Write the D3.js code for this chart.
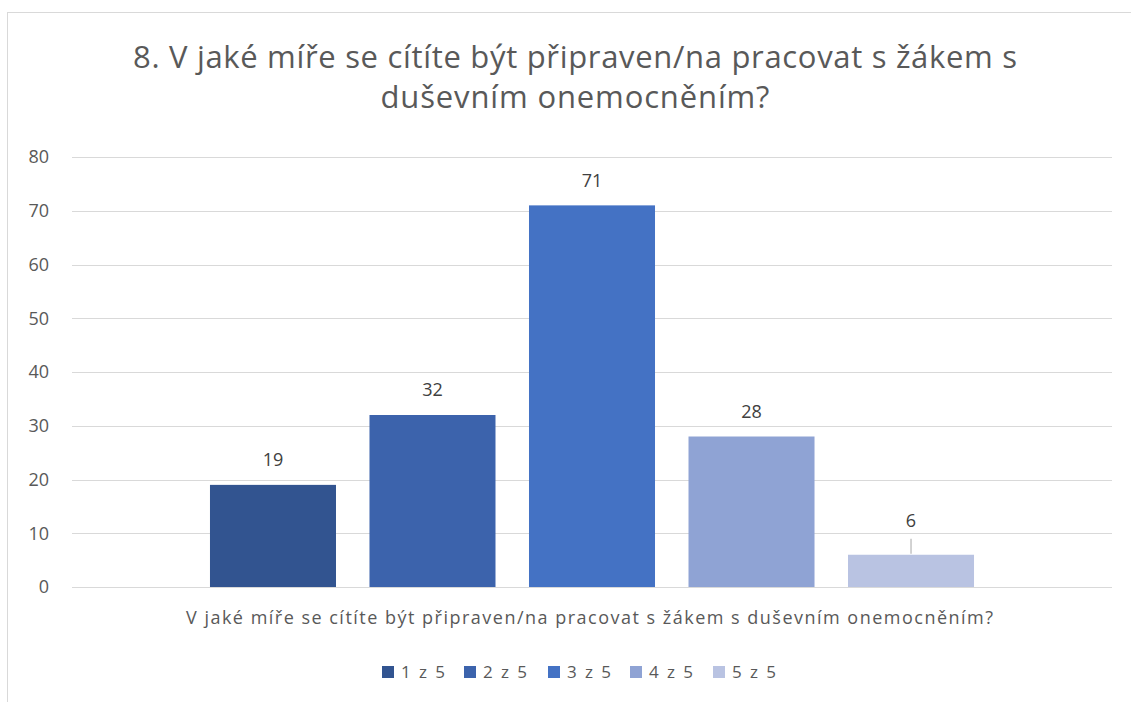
<!DOCTYPE html>
<html><head><meta charset="utf-8">
<script src="https://cdn.jsdelivr.net/npm/d3@7"></script>
<style>body{margin:0;background:#fff}svg{display:block}</style>
</head><body>
<svg id="c" width="1131" height="702"></svg>
<script>
const seriesNames = ["1 z 5","2 z 5","3 z 5","4 z 5","5 z 5"];
const values = [19, 32, 71, 28, 6];
const colors = ["#325490","#3c63ac","#4472c4","#8fa3d4","#b9c3e2"];
const yTicks = [0,10,20,30,40,50,60,70,80];
const titleLines = ["8. V jaké míře se cítíte být připraven/na pracovat s žákem s","duševním onemocněním?"];
const categoryLabel = "V jaké míře se cítíte být připraven/na pracovat s žákem s duševním onemocněním?";

const svg = d3.select("#c");
const font = "'Open Sans', 'Liberation Sans', sans-serif";
const txt = "#595959";

// chart border
svg.append("rect").attr("x",7.5).attr("y",12.5).attr("width",1140).attr("height",720)
  .attr("fill","none").attr("stroke","#d9d9d9").attr("stroke-width",1);

const L=72, R=1112, T=157, B=587;
const y = d3.scaleLinear().domain([0,80]).range([B,T]);
const x = d3.scaleBand().domain(seriesNames).range([L,R]).paddingInner(0.21).paddingOuter(0.865);

// gridlines
svg.append("g").selectAll("line").data(yTicks).join("line")
  .attr("x1",L).attr("x2",R).attr("y1",d=>Math.round(y(d))+0.5).attr("y2",d=>Math.round(y(d))+0.5)
  .attr("stroke","#d9d9d9").attr("stroke-width",1);

// y tick labels
svg.append("g").selectAll("text").data(yTicks).join("text")
  .attr("x",49).attr("y",d=>y(d)).attr("dy","0.35em").attr("text-anchor","end")
  .attr("font-family",font).attr("font-size",18).attr("fill",txt).text(d=>d);

// bars
svg.append("g").selectAll("rect").data(values).join("rect")
  .attr("x",(d,i)=>x(seriesNames[i])).attr("width",x.bandwidth())
  .attr("y",d=>y(d)).attr("height",d=>B-y(d)).attr("fill",(d,i)=>colors[i]);

// data labels
const labelG = svg.append("g");
values.forEach((v,i)=>{
  const cx = x(seriesNames[i]) + x.bandwidth()/2;
  const small = (B - y(v)) < 40;
  const ly = small ? y(v) - 34 : y(v) - 25;
  labelG.append("text").attr("x",cx).attr("y",ly).attr("dy","0.35em").attr("text-anchor","middle")
    .attr("font-family",font).attr("font-size",18).attr("fill","#404040").text(v);
  if (small) {
    labelG.append("line").attr("x1",cx).attr("x2",cx).attr("y1",y(v)-16).attr("y2",y(v)-1)
      .attr("stroke","#a6a6a6").attr("stroke-width",1);
  }
});

// title
svg.append("g").selectAll("text").data(titleLines).join("text")
  .attr("x",575).attr("y",(d,i)=>57+i*40).attr("dy","0.35em").attr("text-anchor","middle")
  .attr("font-family",font).attr("font-size",31).attr("fill",txt)
  .attr("textLength",(d,i)=> i===0 ? 884 : 389).attr("lengthAdjust","spacing").text(d=>d);

// category label
svg.append("text").attr("x",589.5).attr("y",618).attr("dy","0.35em").attr("text-anchor","middle")
  .attr("font-family",font).attr("font-size",18).attr("fill",txt)
  .attr("textLength",807).attr("lengthAdjust","spacing").text(categoryLabel);

// legend
const legX = [382,464,548,630,713];
const lg = svg.append("g").selectAll("g").data(seriesNames).join("g")
  .attr("transform",(d,i)=>`translate(${legX[i]},672)`);
lg.append("rect").attr("x",0).attr("y",-6).attr("width",12).attr("height",12).attr("fill",(d,i)=>colors[i]);
lg.append("text").attr("x",19).attr("y",0).attr("dy","0.35em").attr("font-family",font)
  .attr("font-size",17).attr("fill",txt).attr("textLength",44).attr("lengthAdjust","spacing").text(d=>d);
</script>
</body></html>
